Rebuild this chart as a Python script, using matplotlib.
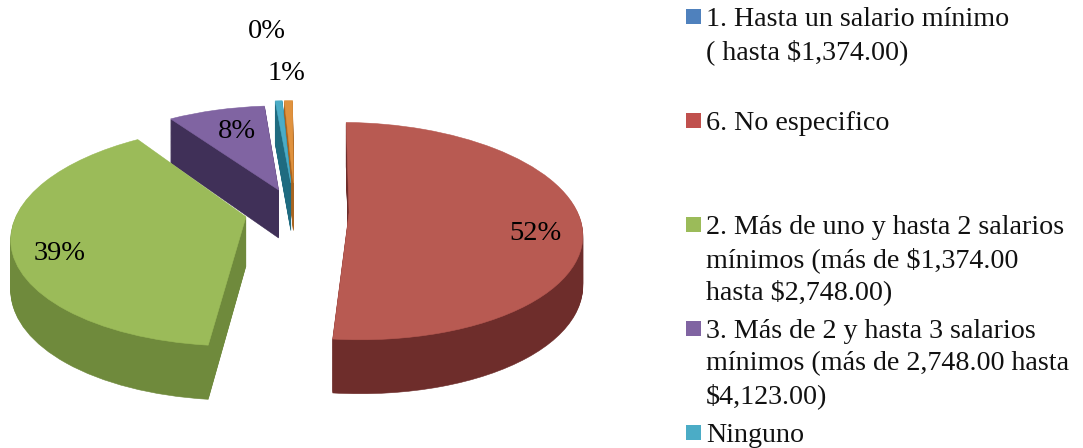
import matplotlib
matplotlib.use("Agg")
import matplotlib.pyplot as plt
import numpy as np
from matplotlib.patches import Rectangle
from matplotlib.transforms import Transform

categories = [
    "1. Hasta un salario mínimo\n( hasta $1,374.00)",
    "6. No especifico",
    "2. Más de uno y hasta 2 salarios\nmínimos (más de $1,374.00\nhasta $2,748.00)",
    "3. Más de 2 y hasta 3 salarios\nmínimos (más de 2,748.00 hasta\n$4,123.00)",
    "Ninguno",
    "Otro",
]
values = [0.49, 51.15, 38.8, 8.2, 0.6, 0.7]
explode = [0.28, 0.237, 0.22, 0.22, 0.28, 0.28]
# the 0% slice does not show in the chart, only in the legend
top_colors = ["none", "#b85a52", "#9bbb59", "#8064a2", "#4bacc6", "#e0923e"]
side_colors = ["none", "#6e2d2b", "#6f8a3c", "#403058", "#1f6b80", "#a86420"]
legend_colors = ["#4f81bd", "#c0504d", "#9bbb59", "#8064a2", "#4bacc6"]
pct_labels = ["0%", "52%", "39%", "8%", "1%"]
pct_x = [267, 535, 60, 237, 286]
pct_y = [31, 233, 254, 132, 73]
legend_y = [9, 113, 217, 321, 425]


# tilted plane seen in perspective, unit pie -> pixels
class Persp(Transform):
    input_dims = 2
    output_dims = 2

    def __init__(self, drop=0):
        super().__init__()
        self.drop = drop

    def transform_non_affine(self, xy):
        xy = np.asarray(xy)
        w = 1 + 0.17 * xy[:, 1]
        sx = 295 + 228 * xy[:, 0] / w
        sy = 211 - 105 * xy[:, 1] / w + self.drop * (1 - 0.1 * xy[:, 1])
        return np.column_stack([sx, sy])


fig = plt.figure(figsize=(10.83, 4.48), dpi=100)
ax = fig.add_axes([0, 0, 1, 1])

for drop in list(range(49, 0, -1)) + [0]:
    colors = top_colors if drop == 0 else side_colors
    wedges, _ = ax.pie(values, explode=explode, colors=colors, startangle=90.3,
                       counterclock=False, radius=1, normalize=True,
                       wedgeprops={"linewidth": 0})
    for w, c in zip(wedges, colors):
        w.set_edgecolor(c)
        w.set_linewidth(0.4)
        w.set_transform(Persp(drop) + ax.transData)
        w.set_clip_on(False)

ax.set_aspect("auto")
ax.set_xlim(0, 1083)
ax.set_ylim(448, 0)
ax.axis("off")

font = "Liberation Serif"
for x, y, s in zip(pct_x, pct_y, pct_labels):
    ax.text(x, y, s, fontsize=20.5, family=font, color="black", ha="center", va="center")

for y, col, label in zip(legend_y, legend_colors, categories):
    ax.add_patch(Rectangle((686, y), 15, 15, facecolor=col, edgecolor="none"))
    for i, line in enumerate(label.split("\n")):
        ax.text(706, y + 11 + 32 * i, line, fontsize=20.2, family=font, color="#111111",
                ha="left", va="center")

fig.savefig("out.png", dpi=100)
